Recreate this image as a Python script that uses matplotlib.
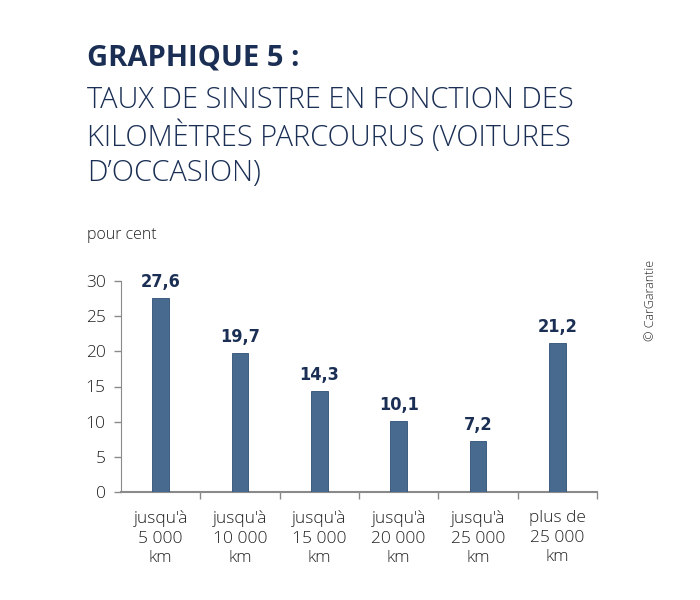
import matplotlib
matplotlib.use("Agg")
import matplotlib.pyplot as plt

categories = ["jusqu'à\n5 000\nkm", "jusqu'à\n10 000\nkm", "jusqu'à\n15 000\nkm",
              "jusqu'à\n20 000\nkm", "jusqu'à\n25 000\nkm", "plus de\n25 000\nkm"]
values = [27.6, 19.7, 14.3, 10.1, 7.2, 21.2]
yticks = [0, 5, 10, 15, 20, 25, 30]

navy = "#1b2f55"
bar_col = "#486a8e"
grey = "#8a8a8a"
txt = "#222222"

plt.rcParams["font.family"] = ["Open Sans", "DejaVu Sans"]

fig = plt.figure(figsize=(7, 6), dpi=100)
ax = fig.add_axes([121/700, 1 - 492/600, 476/700, 211/600])

x = list(range(len(values)))
ax.bar(x, values, width=0.21, color=bar_col, edgecolor="#2f4f73", lw=0.6, zorder=3)
for xi, v in zip(x, values):
    ax.annotate(f"{v:.1f}".replace(".", ","), (xi, v), textcoords="offset points",
                xytext=(0, 5), ha="center", va="bottom", fontsize=13, fontweight="bold",
                color=navy, family="DejaVu Sans", fontstretch="condensed")

ax.set_xlim(-0.5, len(values) - 0.5)
ax.set_ylim(0, 30)
ax.set_yticks(yticks)
ax.set_yticklabels([str(t) for t in yticks], fontsize=12.5, color=txt, fontweight="light")
ax.tick_params(axis="y", length=5, color=grey, width=1, pad=6)

# categories between boundary ticks
ax.set_xticks([i + 0.5 for i in x])
ax.set_xticklabels([])
ax.tick_params(axis="x", length=5, color=grey, width=1, direction="out")
for xi, c in zip(x, categories):
    ax.text(xi, -2.6, c, ha="center", va="top", fontsize=12.5, color=txt,
            linespacing=1.3, fontweight="light")

for s in ["top", "right"]:
    ax.spines[s].set_visible(False)
ax.spines["left"].set_color(grey)
ax.spines["bottom"].set_color(grey)
ax.spines["bottom"].set_linewidth(1.5)

fig.text(87/700, 1 - 58/600, "GRAPHIQUE 5 :", fontsize=21, fontweight="bold",
         color=navy, va="center", ha="left")
sub = ["TAUX DE SINISTRE EN FONCTION DES", "KILOMÈTRES PARCOURUS (VOITURES", "D’OCCASION)"]
for i, line in enumerate(sub):
    fig.text(87/700, 1 - (100 + 36.5 * i)/600, line, fontsize=20.9, color=navy,
             va="center", ha="left", fontweight="light")
fig.text(87/700, 1 - 235/600, "pour cent", fontsize=11.5, color=txt, va="center",
         ha="left", fontweight="light")
fig.text(651/700, 1 - 300/600, "© CarGarantie", fontsize=9, color=txt, rotation=90,
         va="center", ha="center", fontweight="light")

fig.savefig("out.png", dpi=100)
